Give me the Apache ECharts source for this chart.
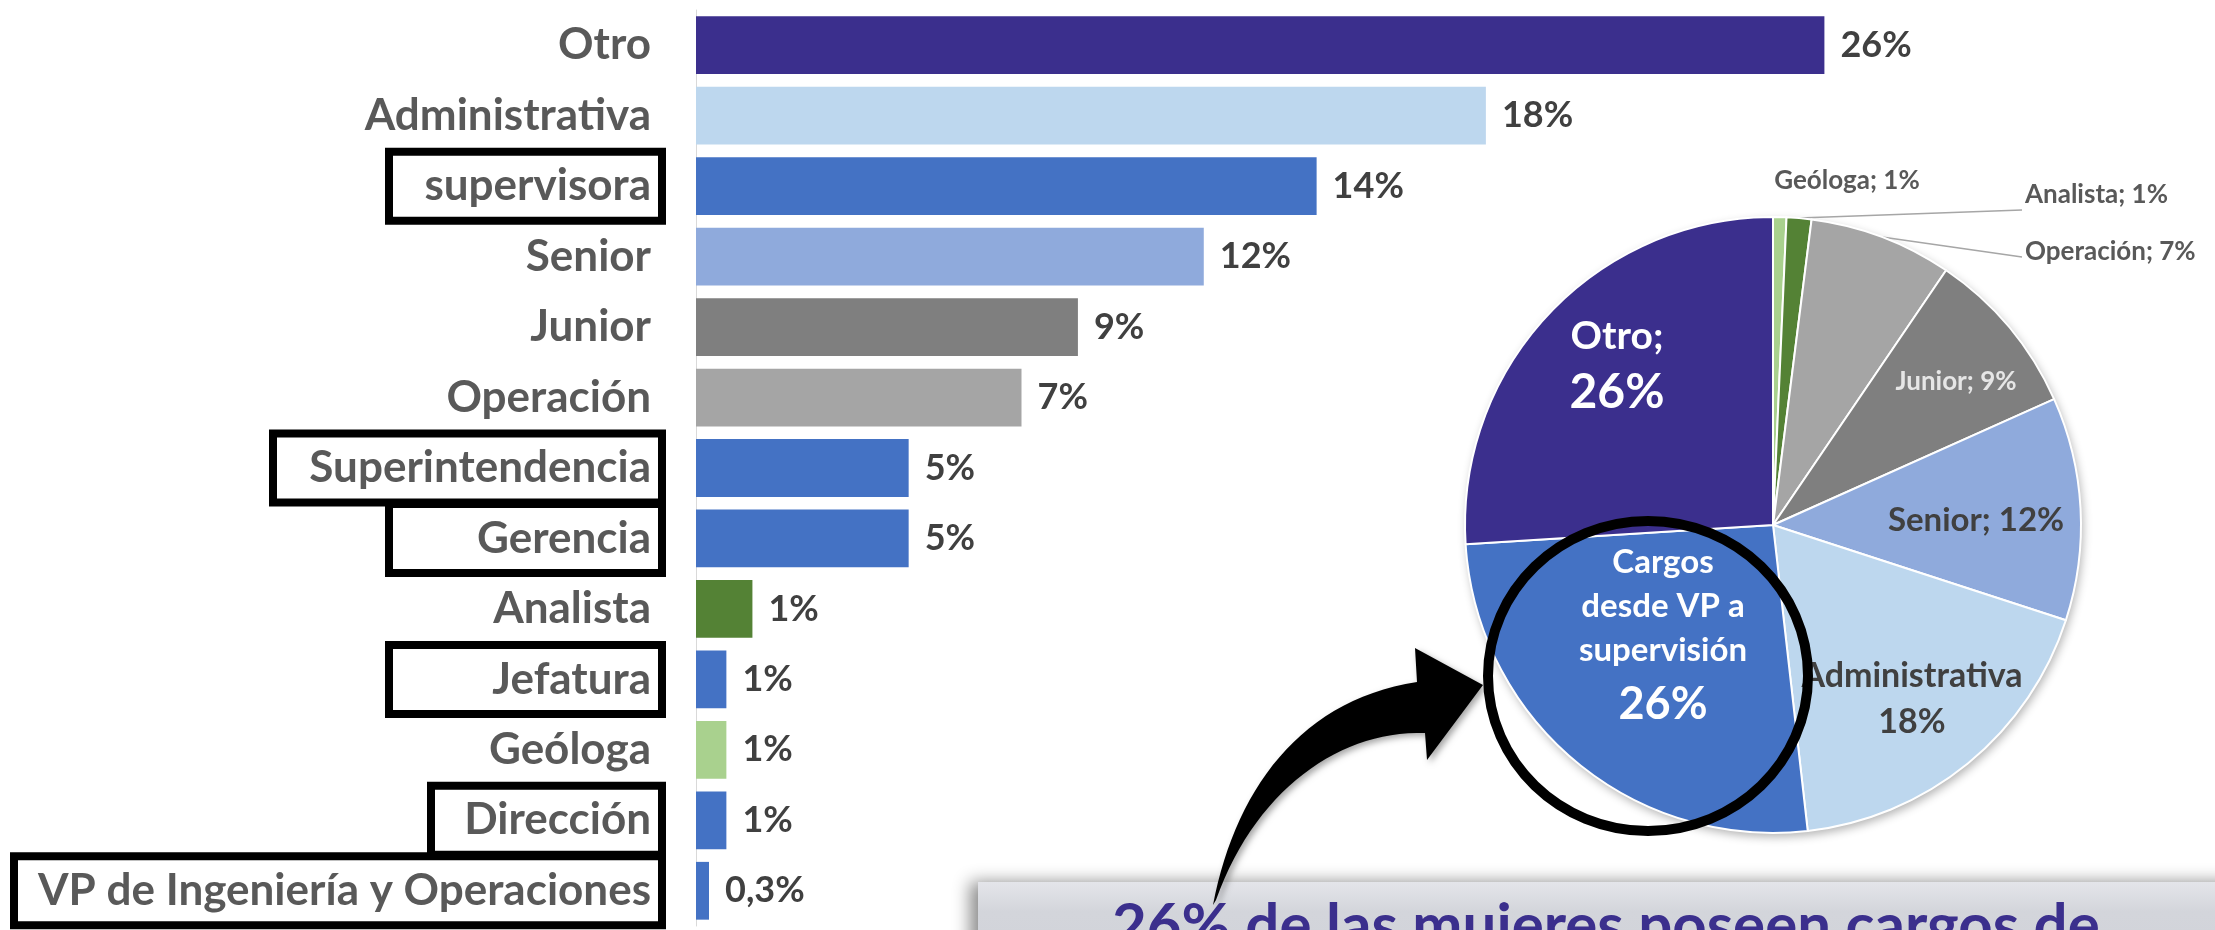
<!DOCTYPE html>
<html>
<head>
<meta charset="utf-8">
<script src="https://cdn.jsdelivr.net/npm/echarts@6/dist/echarts.min.js"></script>
<style>
  html, body { margin: 0; padding: 0; background: #fff; }
  #chart { width: 2215px; height: 930px; }
</style>
</head>
<body>
<div id="chart"></div>
<script>
// bar chart: share of women by position
const categories = [
  "Otro", "Administrativa", "supervisora", "Senior", "Junior", "Operación",
  "Superintendencia", "Gerencia", "Analista", "Jefatura", "Geóloga",
  "Dirección", "VP de Ingeniería y Operaciones",
];
const barValues = [26.0, 18.2, 14.3, 11.7, 8.8, 7.5, 4.9, 4.9, 1.3, 0.7, 0.7, 0.7, 0.3];
const barValueLabels = ["26%", "18%", "14%", "12%", "9%", "7%", "5%", "5%", "1%", "1%", "1%", "1%", "0,3%"];

// pie chart: same data with the leadership posts grouped
const pieNames = [
  "Geóloga", "Analista", "Operación", "Junior", "Senior",
  "Administrativa", "Cargos desde VP a supervisión", "Otro",
];
const pieValues = [0.7, 1.3, 7.5, 8.8, 11.7, 18.2, 25.8, 26.0];
const pieValueLabels = ["1%", "1%", "7%", "9%", "12%", "18%", "26%", "26%"];

const calloutText = "26% de las mujeres poseen cargos de";

const FONT = 'Lato, "Open Sans", sans-serif';
const PURPLE = "#3b2f8d";
const BLUE = "#4472c4";

const BAR_COLORS = {
  "Otro": PURPLE,
  "Administrativa": "#bdd7ee",
  "supervisora": BLUE,
  "Senior": "#8faadc",
  "Junior": "#7f7f7f",
  "Operación": "#a5a5a5",
  "Superintendencia": BLUE,
  "Gerencia": BLUE,
  "Analista": "#548235",
  "Jefatura": BLUE,
  "Geóloga": "#a9d18e",
  "Dirección": BLUE,
  "VP de Ingeniería y Operaciones": BLUE,
};
const PIE_COLORS = {
  "Geóloga": "#a9d18e",
  "Analista": "#548235",
  "Operación": "#a5a5a5",
  "Junior": "#7f7f7f",
  "Senior": "#8faadc",
  "Administrativa": "#bdd7ee",
  "Cargos desde VP a supervisión": BLUE,
  "Otro": PURPLE,
};

// which category labels get a black frame, and which frame size
const LABEL_BOX = {
  "supervisora": "boxM",
  "Superintendencia": "boxL",
  "Gerencia": "boxM",
  "Jefatura": "boxM",
  "Dirección": "boxS",
  "VP de Ingeniería y Operaciones": "boxXL",
};

const PIE_CX = 1773;
const PIE_CY = 525;
const PIE_R = 308;

// label anchor offsets from the pie centre, plus leader line end offset
const PIE_LABEL_POS = {
  "Geóloga": [74, -344, "center"],
  "Analista": [252, -330, "left", [-3, 15]],
  "Operación": [252, -273, "left", [-3, 5]],
  "Junior": [183, -143, "center"],
  "Senior": [203, -5, "center"],
  "Administrativa": [139, 174, "center"],
  "Cargos desde VP a supervisión": [-110, 113, "center"],
  "Otro": [-156, -159, "center"],
};

function pieLabel(name, i) {
  const bold = { fontFamily: FONT, fontWeight: "bold" };
  switch (name) {
    case "Geóloga":
    case "Analista":
    case "Operación":
      return { position: "outside", ...bold, fontSize: 26, color: "#595959",
        formatter: `${name}; ${pieValueLabels[i]}` };
    case "Junior":
      return { position: "inside", ...bold, fontSize: 26, color: "#e6e6e6",
        formatter: `${name}; ${pieValueLabels[i]}` };
    case "Senior":
      return { position: "inside", ...bold, fontSize: 33, color: "#404040",
        formatter: `${name}; ${pieValueLabels[i]}` };
    case "Administrativa":
      return { position: "inside", ...bold, fontSize: 34, color: "#404040",
        lineHeight: 46, align: "center", formatter: `${name}\n${pieValueLabels[i]}` };
    case "Otro":
      return { position: "inside", formatter: `{t|${name};}\n{v|${pieValueLabels[i]}}`,
        rich: {
          t: { ...bold, fontSize: 39, color: "#fff", lineHeight: 54, align: "center" },
          v: { ...bold, fontSize: 48, color: "#fff", lineHeight: 60, align: "center" },
        } };
    default:
      return { position: "inside",
        formatter: name.replace(" desde", "\ndesde").replace(" supervisión", "\nsupervisión")
          .split("\n").map((s) => `{t|${s}}`).join("\n") + `\n{v|${pieValueLabels[i]}}`,
        rich: {
          t: { ...bold, fontSize: 33, color: "#fff", lineHeight: 44, align: "center" },
          v: { ...bold, fontSize: 45, color: "#fff", lineHeight: 64, align: "center" },
        } };
  }
}

function cubic(p0, p1, p2, p3, n) {
  const pts = [];
  for (let k = 0; k <= n; k++) {
    const t = k / n, u = 1 - t;
    const a = u * u * u, b = 3 * u * u * t, c = 3 * u * t * t, d = t * t * t;
    pts.push([
      a * p0[0] + b * p1[0] + c * p2[0] + d * p3[0],
      a * p0[1] + b * p1[1] + c * p2[1] + d * p3[1],
    ]);
  }
  return pts;
}

const arrowPoints = [
  ...cubic([1213, 905], [1235, 790], [1300, 700], [1417, 682], 30),
  [1415, 648], [1483, 685], [1427, 760],
  ...cubic([1425, 733], [1340, 730], [1255, 790], [1216, 900], 30),
];

const boxBase = {
  fontFamily: FONT, fontWeight: "bold", fontSize: 44, color: "#595959",
  align: "right", borderColor: "#000", borderWidth: 8,
  padding: [8, 11, 8, 8], height: 53, lineHeight: 53,
};

let myChart = echarts.init(document.getElementById("chart"), null, { renderer: "canvas" });

let option = {
  animation: false,
  backgroundColor: "#fff",
  grid: { left: 696, right: 217, top: 10, bottom: 4, containLabel: false },
  xAxis: { type: "value", min: 0, max: 30, show: false },
  yAxis: {
    type: "category",
    inverse: true,
    data: categories,
    axisTick: { show: false },
    axisLine: { show: true, lineStyle: { color: "#d9d9d9", width: 1 } },
    axisLabel: {
      interval: 0,
      margin: 34,
      formatter: function (value) {
        return `{${LABEL_BOX[value] || "plain"}|${value}}`;
      },
      rich: {
        plain: { fontFamily: FONT, fontWeight: "bold", fontSize: 44, color: "#595959", align: "right", padding: [0, 11, 0, 0] },
        boxM: { ...boxBase, width: 254 },
        boxL: { ...boxBase, width: 370 },
        boxS: { ...boxBase, width: 212 },
        boxXL: { ...boxBase, width: 629 },
      },
    },
  },
  series: [
    {
      name: "cargos",
      type: "bar",
      barCategoryGap: "18%",
      data: barValues.map((v, i) => ({ value: v, itemStyle: { color: BAR_COLORS[categories[i]] } })),
      label: {
        show: true,
        position: "right",
        distance: 16,
        fontFamily: FONT,
        fontWeight: "bold",
        fontSize: 36,
        color: "#404040",
        formatter: (p) => barValueLabels[p.dataIndex],
      },
    },
    {
      name: "pie",
      type: "pie",
      center: [PIE_CX, PIE_CY],
      radius: PIE_R,
      startAngle: 90,
      clockwise: true,
      avoidLabelOverlap: false,
      itemStyle: { borderColor: "#fff", borderWidth: 2 },
      data: pieNames.map((n, i) => ({
        name: n,
        value: pieValues[i],
        itemStyle: { color: PIE_COLORS[n] },
        label: pieLabel(n, i),
        labelLine: {
          show: n === "Analista" || n === "Operación",
          length: 10,
          length2: 10,
          lineStyle: { color: "#a6a6a6", width: 1.5 },
        },
      })),
      labelLayout: function (params) {
        const pos = PIE_LABEL_POS[pieNames[params.dataIndex]];
        const x = PIE_CX + pos[0];
        const y = PIE_CY + pos[1];
        const out = { x: x, y: y, align: pos[2], verticalAlign: "middle" };
        if (pos[3] && params.labelLinePoints) {
          const s = params.labelLinePoints[0];
          const e = [x + pos[3][0], y + pos[3][1]];
          out.labelLinePoints = [s, [(s[0] + e[0]) / 2, (s[1] + e[1]) / 2], e];
        }
        return out;
      },
    },
  ],
  graphic: [
    {
      // soft drop shadow under the pie
      type: "circle",
      z: 1,
      shape: { cx: PIE_CX, cy: PIE_CY, r: PIE_R },
      style: {
        fill: "#fff",
        shadowBlur: 10,
        shadowOffsetX: 2,
        shadowOffsetY: 4,
        shadowColor: "rgba(0,0,0,0.3)",
      },
    },
    {
      type: "rect",
      z: 10,
      shape: { x: 978, y: 882, width: 1300, height: 120 },
      style: {
        fill: new echarts.graphic.LinearGradient(0, 0, 0, 1, [
          { offset: 0, color: "#e4e5ea" },
          { offset: 0.25, color: "#d3d5db" },
          { offset: 1, color: "#cfd1d8" },
        ]),
        shadowBlur: 16,
        shadowOffsetX: -8,
        shadowColor: "rgba(0,0,0,0.45)",
      },
    },
    {
      type: "text",
      z: 11,
      style: {
        text: calloutText,
        x: 1112,
        y: 897,
        fontFamily: FONT,
        fontWeight: "bold",
        fontSize: 60,
        fill: PURPLE,
        verticalAlign: "top",
      },
    },
    {
      type: "ellipse",
      z: 20,
      shape: { cx: 1648, cy: 676, rx: 160, ry: 155 },
      style: { fill: "none", stroke: "#000", lineWidth: 10 },
    },
    {
      type: "polygon",
      z: 21,
      shape: { points: arrowPoints },
      style: {
        fill: "#000",
        shadowBlur: 6,
        shadowOffsetX: 3,
        shadowOffsetY: 3,
        shadowColor: "rgba(0,0,0,0.35)",
      },
    },
  ],
};

option && myChart.setOption(option);
</script>
</body>
</html>
